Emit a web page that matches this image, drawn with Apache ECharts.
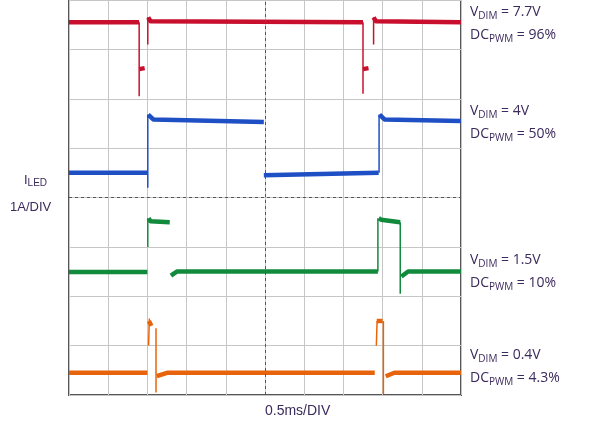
<!DOCTYPE html>
<html><head><meta charset="utf-8">
<script src="https://cdn.jsdelivr.net/npm/echarts@6/dist/echarts.min.js"></script>
<style>html,body{margin:0;padding:0;background:#fff}#c{width:600px;height:430px}</style>
</head><body><div id="c"></div>
<script>
// x in time divisions (0.5ms/DIV), y in vertical divisions (1A/DIV)
const redFlat = [[0,7.55],[1.79,7.55],'-',[1.79,6.6],[1.93,6.62],'-',[2.02,7.65],[2.08,7.57],[7.5,7.55],'-',[7.5,6.6],[7.64,6.62],'-',[7.77,7.65],[7.83,7.57],[10,7.55]];
const redEdge = [[1.79,7.55],[1.79,6.05],'-',[2.01,7.1],[2.01,7.65],'-',[7.5,7.55],[7.5,6.1],'-',[7.77,7.1],[7.77,7.65]];
const blueFlat = [[0,4.5],[2.0,4.5],'-',[2.02,5.68],[2.15,5.58],[4.97,5.53],'-',[4.97,4.45],[7.9,4.5],'-',[7.92,5.68],[8.05,5.58],[10,5.55]];
const blueEdge = [[2.01,4.2],[2.01,5.68],'-',[7.91,4.5],[7.91,5.68]];
const greenFlat = [[0,2.49],[2.0,2.49],'-',[2.03,3.58],[2.08,3.52],[2.57,3.5],'-',[2.6,2.42],[2.75,2.5],[7.88,2.5],'-',[7.9,3.58],[7.96,3.55],[8.45,3.5],'-',[8.48,2.4],[8.65,2.5],[10,2.5]];
const greenEdge = [[2.01,3.0],[2.01,3.58],'-',[7.88,2.5],[7.88,3.58],'-',[8.45,3.5],[8.45,2.05]];
const orangeFlat = [[0,0.45],[2.0,0.45],'-',[2.04,1.5],[2.1,1.4],'-',[2.24,0.38],[2.5,0.45],[7.8,0.45],'-',[7.85,1.5],[8.0,1.5],'-',[8.08,0.38],[8.3,0.45],[10,0.45]];
const orangeEdge = [[2.03,1.0],[2.05,1.55],'-',[2.22,1.35],[2.22,0.05],'-',[7.84,1.0],[7.86,1.5],'-',[8.02,1.5],[8.02,0.02]];
const labels = [
  {v:'7.7V', dc:'96%', y:14},
  {v:'4V', dc:'50%', y:113},
  {v:'1.5V', dc:'10%', y:262},
  {v:'0.4V', dc:'4.3%', y:357}
];
const txt = '#3b2a5c';
const chart = echarts.init(document.getElementById('c'));
const mk = (d,c,w)=>({type:'line',data:d,symbol:'none',connectNulls:false,animation:false,
  lineStyle:{color:c,width:w,join:'round'}});
const graphics = [];
labels.forEach(l=>{
  graphics.push({type:'text',left:470,top:l.y-9,style:{rich:{a:{fontSize:14,fill:txt,fontFamily:'Open Sans'},s:{fontSize:10,fill:txt,padding:[8,0,0,0],fontFamily:'Open Sans'}},text:'{a|V}{s|DIM}{a| = '+l.v+'}'}});
  graphics.push({type:'text',left:470,top:l.y+14,style:{rich:{a:{fontSize:14,fill:txt,fontFamily:'Open Sans'},s:{fontSize:10,fill:txt,padding:[8,0,0,0],fontFamily:'Open Sans'}},text:'{a|DC}{s|PWM}{a| = '+l.dc+'}'}});
});
graphics.push({type:'text',left:24,top:174,style:{rich:{a:{fontSize:13,fill:txt},s:{fontSize:10,fill:txt,padding:[6,0,0,0]}},text:'{a|I}{s|LED}'}});
graphics.push({type:'text',left:10,top:201,style:{fontSize:13,fill:txt,text:'1A/DIV'}});
graphics.push({type:'text',left:265,top:404,style:{fontSize:14,fill:txt,text:'0.5ms/DIV',align:'center'}});
chart.setOption({
  animation:false,
  grid:{left:69,right:139,top:0,bottom:35,show:true,borderColor:'#555',borderWidth:2},
  xAxis:{type:'value',min:0,max:10,interval:1,axisLabel:{show:false},axisTick:{show:false},axisLine:{show:false},
    splitLine:{show:true,lineStyle:{color:'#c6c6c6',width:1}}},
  yAxis:{type:'value',min:0,max:8,interval:1,axisLabel:{show:false},axisTick:{show:false},axisLine:{show:false},
    splitLine:{show:true,lineStyle:{color:'#c6c6c6',width:1}}},
  graphic:graphics,
  series:[
    mk(redFlat,'#c8102e',4.5),mk(redEdge,'#c8102e',1.5),
    mk(blueFlat,'#1f4fc4',4.5),mk(blueEdge,'#1f4fc4',1.5),
    mk(greenFlat,'#128a3c',4.5),mk(greenEdge,'#128a3c',1.5),
    mk(orangeFlat,'#e8640c',4.5),mk(orangeEdge,'#e8640c',1.5),
    {type:'line',data:[],markLine:{silent:true,symbol:'none',label:{show:false},lineStyle:{color:'#555',type:[3,3],width:1},
      data:[{xAxis:5},{yAxis:4}]}}
  ]
});
</script></body></html>
